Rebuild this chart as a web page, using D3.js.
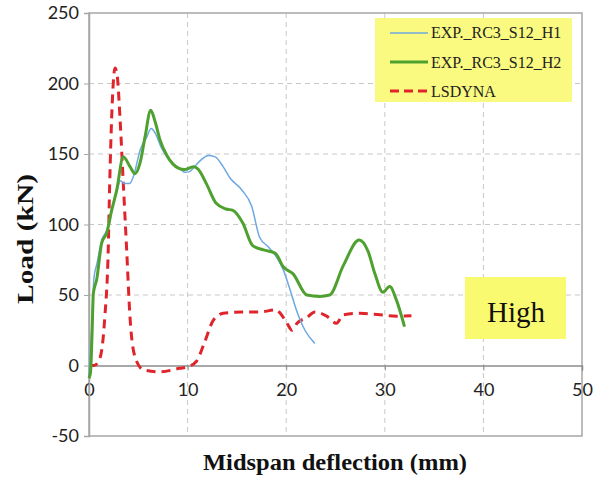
<!DOCTYPE html>
<html>
<head>
<meta charset="utf-8">
<script src="https://cdn.jsdelivr.net/npm/d3@7"></script>
<style>
  html, body { margin: 0; padding: 0; background: #fff; }
  svg { display: block; }
</style>
</head>
<body>
<svg id="chart" width="601" height="483"></svg>
<script>
// ---- data ----
const xTicks = [0, 10, 20, 30, 40, 50];
const yTicks = [-50, 0, 50, 100, 150, 200, 250];
const seriesNames = ["EXP._RC3_S12_H1", "EXP._RC3_S12_H2", "LSDYNA"];

const h1X = [0, 0.3, 0.5, 0.8, 1.3, 1.8, 2.3, 2.8, 3.2, 3.6, 4.1, 4.5, 5.2, 5.85, 6.3, 6.7, 7.3, 7.9, 8.5, 9.2, 9.7, 10.2, 10.7, 11.4, 12.1, 12.8, 13.6, 14.3, 15.5, 16.5, 17.3, 18.2, 19.0, 19.7, 20.4, 21.05, 21.9, 22.9];
const h1Y = [-8, 30, 62, 72, 89, 96, 111, 123, 131, 129, 129, 134, 153, 162, 168, 165, 155, 148, 143, 140, 137, 137.5, 141, 146, 149, 148, 141, 133, 124.5, 113, 91, 84, 77, 68, 53.5, 39, 25, 15.7];

const h2X = [0, 0.15, 0.3, 0.44, 0.78, 1.29, 1.8, 2.3, 2.8, 3.48, 4.16, 4.67, 5.17, 5.68, 6.26, 6.7, 7.2, 7.9, 8.5, 9.06, 9.7, 10.6, 11.1, 11.9, 12.9, 13.9, 14.6, 15.6, 16.6, 17.7, 18.9, 19.7, 20.7, 22.1, 23.4, 24.4, 25.8, 27.4, 28.3, 29.0, 29.8, 30.5, 31.2, 32.0];
const h2Y = [-9, -5, 20, 51, 61, 87, 94, 110, 124, 148, 141, 136, 143.5, 162, 181, 173, 160, 149, 143, 140, 139, 141, 139, 129, 115, 111, 110, 101, 85, 82, 79.6, 70, 65, 50, 49, 50, 71, 89, 81, 65, 52, 56, 46, 27.5];

const lsX = [0, 0.5, 1.1, 1.6, 1.95, 2.1, 2.3, 2.64, 2.87, 3.14, 3.48, 3.82, 4.16, 4.67, 5.5, 7.2, 9.2, 10.0, 10.9, 11.7, 12.6, 13.6, 15.5, 17.3, 19.0, 19.4, 20.0, 20.6, 21.1, 22.1, 22.9, 24.1, 25.1, 25.8, 27.5, 29.5, 31.2, 32.7];
const lsY = [0, 0, 5, 34, 82, 129, 176, 211, 205, 176, 129, 82, 34, 6, -3, -4.5, -2, -1, 3, 16, 32, 37, 38, 38, 39.5, 37, 31, 25, 30, 34, 38, 35, 30, 36, 37, 36, 35, 35.3];

// ---- layout ----
const svg = d3.select("#chart");
const L = 89, R = 582, T = 13, B = 436;
const x = d3.scaleLinear().domain([0, 50]).range([L, R]);
const y = d3.scaleLinear().domain([-50, 250]).range([B, T]);

const tickFont = "Lato, 'Open Sans', sans-serif";
const serif = "'Liberation Serif', 'Times New Roman', serif";

// gridlines
const g = svg.append("g");
g.selectAll(".hg").data(yTicks.filter(d => d !== 0 && d !== 250 && d !== -50)).enter()
  .append("line")
  .attr("x1", L).attr("x2", R)
  .attr("y1", d => y(d)).attr("y2", d => y(d))
  .attr("stroke", "#c8c8c8").attr("stroke-width", 1).attr("stroke-dasharray", "5,4");
g.selectAll(".vg").data(xTicks.filter(d => d !== 0 && d !== 50)).enter()
  .append("line")
  .attr("y1", T).attr("y2", B)
  .attr("x1", d => x(d)).attr("x2", d => x(d))
  .attr("stroke", "#c8c8c8").attr("stroke-width", 1).attr("stroke-dasharray", "5,4");

// plot border
svg.append("rect").attr("x", L).attr("y", T).attr("width", R - L).attr("height", B - T)
  .attr("fill", "none").attr("stroke", "#a6a6a6").attr("stroke-width", 1.5);

// zero line (x-axis)
const fmt = d => String(d);
const xAxis = d3.axisBottom(x).tickValues(xTicks).tickFormat(fmt).tickSize(5).tickPadding(13);
const xg = svg.append("g").attr("transform", `translate(0,${y(0)})`).call(xAxis);
xg.select(".domain").attr("stroke", "#8c8c8c").attr("stroke-width", 1.5);
xg.selectAll(".tick line").attr("stroke", "#8c8c8c");
xg.selectAll(".tick text").attr("font-family", tickFont).attr("font-size", 18).attr("fill", "#222");

// y-axis
const yAxis = d3.axisLeft(y).tickValues(yTicks).tickFormat(fmt).tickSize(5).tickPadding(5);
const yg = svg.append("g").attr("transform", `translate(${L},0)`).call(yAxis);
yg.select(".domain").attr("stroke", "#a6a6a6").attr("stroke-width", 1.5);
yg.selectAll(".tick line").attr("stroke", "#a6a6a6");
yg.selectAll(".tick text").attr("font-family", tickFont).attr("font-size", 18).attr("fill", "#222");

// legend box
const lg = svg.append("g");
lg.append("rect").attr("x", 375).attr("y", 18).attr("width", 197).attr("height", 84).attr("fill", "#fafa80");

// high box
svg.append("rect").attr("x", 465).attr("y", 277).attr("width", 101).attr("height", 62).attr("fill", "#fafa70");
svg.append("text").attr("x", 516).attr("y", 322).attr("text-anchor", "middle")
  .attr("font-family", serif).attr("font-size", 29).attr("fill", "#111").text("High");

// curves
const line = d3.line().x(d => x(d[0])).y(d => y(d[1])).curve(d3.curveMonotoneX);
const mk = (xs, ys) => xs.map((v, i) => [v, ys[i]]);

svg.append("path").datum(mk(lsX, lsY)).attr("d", line)
  .attr("fill", "none").attr("stroke", "#e0242c").attr("stroke-width", 3).attr("stroke-dasharray", "9,6");
svg.append("path").datum(mk(h1X, h1Y)).attr("d", line)
  .attr("fill", "none").attr("stroke", "#6ea8e2").attr("stroke-width", 1.5);
svg.append("path").datum(mk(h2X, h2Y)).attr("d", line)
  .attr("fill", "none").attr("stroke", "#4ea12f").attr("stroke-width", 3);

// legend entries
const legStyles = [
  { c: "#6ea8e2", w: 1.5, dash: null, yy: 33, ty: 38 },
  { c: "#4ea12f", w: 3, dash: null, yy: 62, ty: 68 },
  { c: "#e0242c", w: 3, dash: "9,5", yy: 91, ty: 97 }
];
seriesNames.forEach((n, i) => {
  const s = legStyles[i];
  const ln = lg.append("line").attr("x1", 390).attr("x2", 428).attr("y1", s.yy).attr("y2", s.yy)
    .attr("stroke", s.c).attr("stroke-width", s.w);
  if (s.dash) ln.attr("stroke-dasharray", s.dash);
  lg.append("text").attr("x", 431).attr("y", s.ty)
    .attr("font-family", serif).attr("font-size", 16).attr("fill", "#222").text(n);
});

// axis titles
svg.append("text").attr("x", 335).attr("y", 470).attr("text-anchor", "middle")
  .attr("font-family", serif).attr("font-weight", "bold").attr("font-size", 24).attr("fill", "#111")
  .attr("textLength", 264).attr("lengthAdjust", "spacingAndGlyphs")
  .text("Midspan deflection (mm)");
svg.append("text").attr("transform", "translate(33,239) rotate(-90)").attr("text-anchor", "middle")
  .attr("font-family", serif).attr("font-weight", "bold").attr("font-size", 24).attr("fill", "#111")
  .attr("textLength", 130).attr("lengthAdjust", "spacingAndGlyphs")
  .text("Load (kN)");
</script>
</body>
</html>
